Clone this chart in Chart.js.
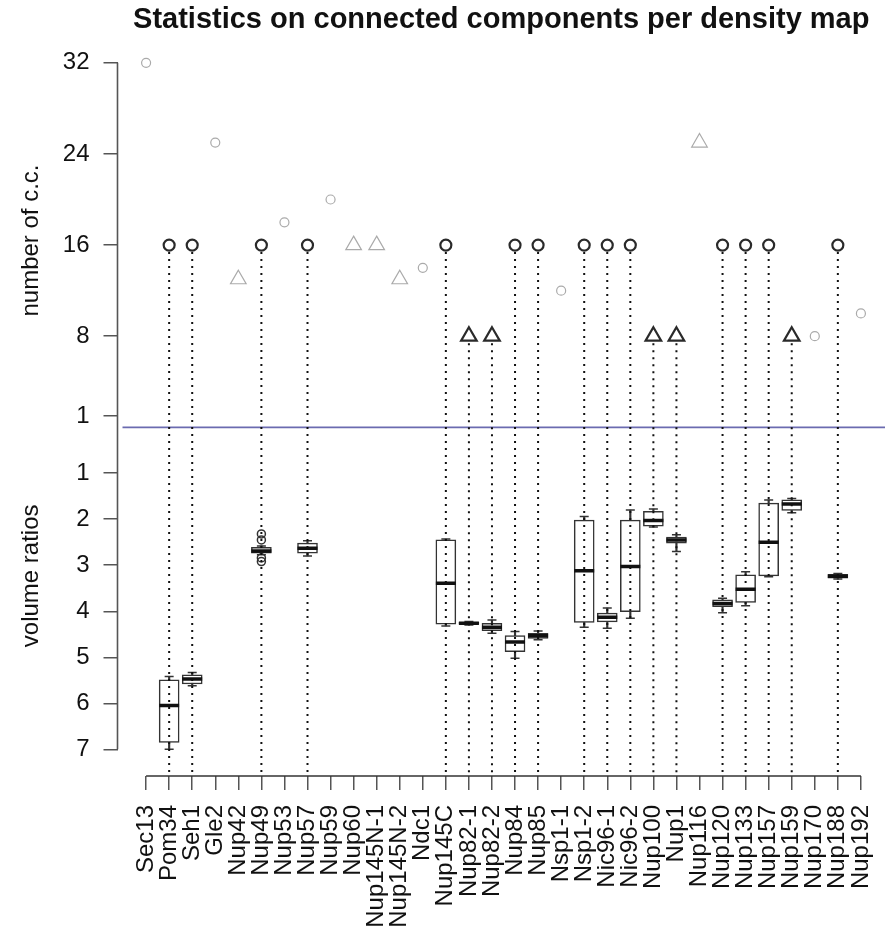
<!DOCTYPE html>
<html>
<head>
<meta charset="utf-8">
<title>Statistics on connected components per density map</title>
<script src="https://cdn.jsdelivr.net/npm/chart.js@4/dist/chart.umd.min.js"></script>
<style>
  html, body { margin: 0; padding: 0; background: #fff; }
  #wrap { width: 885px; height: 931px; }
</style>
</head>
<body>
<div id="wrap"><canvas id="chart"></canvas></div>
<script>
// Density maps along the x axis
const maps = ['Sec13', 'Pom34', 'Seh1', 'Gle2', 'Nup42', 'Nup49', 'Nup53', 'Nup57', 'Nup59', 'Nup60',
  'Nup145N-1', 'Nup145N-2', 'Ndc1', 'Nup145C', 'Nup82-1', 'Nup82-2', 'Nup84', 'Nup85', 'Nsp1-1', 'Nsp1-2',
  'Nic96-1', 'Nic96-2', 'Nup100', 'Nup1', 'Nup116', 'Nup120', 'Nup133', 'Nup157', 'Nup159', 'Nup170',
  'Nup188', 'Nup192'];

// Upper panel: number of connected components and marker shape (o = circle, t = triangle)
const ccCount = [32, 16, 16, 25, 13, 16, 18, 16, 20, 16, 16, 13, 14, 16, 8, 8, 16, 16, 12, 16, 16, 16, 8, 8, 25, 16, 16, 16, 8, 8, 16, 10];
const ccShape = ['o', 'o', 'o', 'o', 't', 'o', 'o', 'o', 'o', 't', 't', 't', 'o', 'o', 't', 't', 'o', 'o', 'o', 'o',
  'o', 'o', 't', 't', 't', 'o', 'o', 'o', 't', 'o', 'o', 'o'];

// Lower panel: volume ratio box plots (null = no box for that map)
const ratioLow  = [null, 5.42, 5.33, null, null, 2.58, null, 2.47, null, null, null, null, null, 2.43, 4.22, 4.19, 4.44, 4.43, null, 1.94, 3.93, 1.80, 1.78, 2.34, null, 3.72, 3.14, 1.58, 1.55, null, 3.18, null];
const ratioQ1   = [null, 5.49, 5.38, null, null, 2.61, null, 2.52, null, null, null, null, null, 2.45, 4.24, 4.26, 4.53, 4.48, null, 2.02, 4.04, 2.02, 1.83, 2.39, null, 3.75, 3.21, 1.65, 1.58, null, 3.20, null];
const ratioMed  = [null, 6.05, 5.47, null, null, 2.69, null, 2.63, null, null, null, null, null, 3.39, 4.26, 4.35, 4.67, 4.53, null, 3.12, 4.13, 3.03, 2.03, 2.45, null, 3.83, 3.52, 2.50, 1.67, null, 3.24, null];
const ratioQ3   = [null, 6.85, 5.58, null, null, 2.74, null, 2.74, null, null, null, null, null, 4.28, 4.28, 4.42, 4.88, 4.59, null, 4.24, 4.23, 4.01, 2.15, 2.52, null, 3.90, 3.81, 3.23, 1.81, null, 3.28, null];
const ratioHigh = [null, 7.00, 5.62, null, null, 2.77, null, 2.80, null, null, null, null, null, 4.32, 4.30, 4.48, 5.02, 4.62, null, 4.35, 4.37, 4.15, 2.17, 2.70, null, 4.03, 3.88, 3.25, 1.86, null, 3.30, null];

// Outliers of the box plots
const outlierMap = ['Nup49', 'Nup49', 'Nup49', 'Nup49'];
const outlierValue = [2.32, 2.45, 2.84, 2.92];

// Tick labels
const ccTicks = [1, 8, 16, 24, 32];
const ratioTicks = [1, 2, 3, 4, 5, 6, 7];

const FONT = "'Liberation Sans', Arial, Helvetica, sans-serif";
Chart.defaults.font.family = FONT;
Chart.defaults.color = '#111';

const hasBox = i => ratioMed[i] !== null;
const boxIdx = maps.map((m, i) => i).filter(hasBox);

// dotted drop lines, the blue zero line, axis lines and axis titles
const extras = {
  id: 'extras',
  afterDatasetsDraw(chart) {
    const { ctx, chartArea, scales } = chart;
    const xs = scales.x, yTop = scales.yTop;
    ctx.save();

    // blue line at zero components
    const y0 = yTop.getPixelForValue(0);
    ctx.strokeStyle = '#6b6bb0';
    ctx.lineWidth = 1.6;
    ctx.beginPath();
    ctx.moveTo(chartArea.left + 5, y0);
    ctx.lineTo(chartArea.right, y0);
    ctx.stroke();

    // dotted lines from each marker down to the axis
    ctx.strokeStyle = '#111';
    ctx.lineWidth = 2;
    ctx.setLineDash([2, 5]);
    boxIdx.forEach(i => {
      const x = xs.getPixelForValue(i + 1);
      const top = yTop.getPixelForValue(ccCount[i]) + 7;
      ctx.beginPath();
      ctx.moveTo(x, top);
      ctx.lineTo(x, chartArea.bottom);
      ctx.stroke();
    });
    ctx.restore();
  },
  afterDraw(chart) {
    const { ctx, chartArea, scales } = chart;
    const xs = scales.x, yTop = scales.yTop, yBot = scales.yBot;
    ctx.save();
    // y axis line from the top tick to the bottom tick
    ctx.strokeStyle = '#555';
    ctx.lineWidth = 1.6;
    ctx.beginPath();
    ctx.moveTo(chartArea.left, yTop.getPixelForValue(ccTicks[ccTicks.length - 1]));
    ctx.lineTo(chartArea.left, yBot.getPixelForValue(ratioTicks[ratioTicks.length - 1]));
    ctx.stroke();
    // x axis line from the first to the last map
    ctx.strokeStyle = '#333';
    ctx.beginPath();
    ctx.moveTo(xs.getPixelForValue(1), chartArea.bottom);
    ctx.lineTo(xs.getPixelForValue(maps.length), chartArea.bottom);
    ctx.stroke();

    // axis titles
    ctx.fillStyle = '#111';
    ctx.font = '24px ' + FONT;
    ctx.textAlign = 'center';
    ctx.textBaseline = 'alphabetic';
    [['number of c.c.', yTop.getPixelForValue(16.4)], ['volume ratios', yBot.getPixelForValue(3.23)]].forEach(([t, y]) => {
      ctx.save();
      ctx.translate(38, y);
      ctx.rotate(-Math.PI / 2);
      ctx.fillText(t, 0, 0);
      ctx.restore();
    });
    ctx.restore();
  }
};

const tickGrid = { drawOnChartArea: false, drawTicks: true, tickLength: 14, color: '#555', lineWidth: 1.5, offset: false };

new Chart(document.getElementById('chart'), {
  type: 'scatter',
  data: {
    datasets: [
      {
        // number of connected components
        yAxisID: 'yTop',
        order: 0,
        clip: false,
        data: maps.map((m, i) => ({ x: i + 1, y: ccCount[i] })),
        pointStyle: ctx => ccShape[ctx.dataIndex] === 't' ? 'triangle' : 'circle',
        radius: ctx => ccShape[ctx.dataIndex] === 't' ? 9 : (hasBox(ctx.dataIndex) ? 5.5 : 4.5),
        borderColor: ctx => hasBox(ctx.dataIndex) ? '#2a2a2a' : '#aaa',
        borderWidth: ctx => hasBox(ctx.dataIndex) ? 2.2 : 1.2,
        backgroundColor: 'rgba(255,255,255,0)'
      },
      {
        // medians
        yAxisID: 'yBot',
        order: 1,
        data: boxIdx.map(i => ({ x: i + 1, y: ratioMed[i] })),
        pointStyle: 'line',
        radius: 10,
        borderWidth: 3.5,
        borderColor: '#111'
      },
      {
        // outliers
        yAxisID: 'yBot',
        order: 1,
        data: outlierMap.map((m, k) => ({ x: maps.indexOf(m) + 1, y: outlierValue[k] })),
        pointStyle: 'circle',
        radius: 4,
        borderWidth: 1.5,
        borderColor: '#333',
        backgroundColor: 'rgba(255,255,255,0)'
      },
      {
        // boxes (first to third quartile)
        type: 'bar',
        yAxisID: 'yBot',
        order: 2,
        grouped: false,
        barThickness: 20,
        data: boxIdx.map(i => ({ x: i + 1, y: [ratioQ1[i], ratioQ3[i]] })),
        backgroundColor: '#fff',
        borderColor: '#333',
        borderWidth: 1.5,
        borderSkipped: false
      },
      {
        // whisker caps
        yAxisID: 'yBot',
        order: 3,
        data: boxIdx.flatMap(i => [{ x: i + 1, y: ratioLow[i] }, { x: i + 1, y: ratioHigh[i] }]),
        pointStyle: 'line',
        radius: 4.5,
        borderWidth: 1.5,
        borderColor: '#333'
      },
      {
        // whiskers
        type: 'bar',
        yAxisID: 'yBot',
        order: 4,
        grouped: false,
        barThickness: 1.5,
        data: boxIdx.map(i => ({ x: i + 1, y: [ratioLow[i], ratioHigh[i]] })),
        backgroundColor: '#333',
        borderWidth: 0
      }
    ]
  },
  options: {
    responsive: true,
    maintainAspectRatio: false,
    animation: false,
    layout: { autoPadding: false, padding: { left: 62.5, right: 0, top: 0, bottom: 3 } },
    plugins: {
      legend: { display: false },
      tooltip: { enabled: false },
      title: {
        display: true,
        fullSize: false,
        text: 'Statistics on connected components per density map',
        font: { size: 29, weight: 'bold' },
        color: '#111',
        padding: { top: 3, bottom: 25 }
      }
    },
    scales: {
      x: {
        type: 'linear',
        offset: false,
        min: -0.24,
        max: 33.045,
        afterBuildTicks: s => { s.ticks = maps.map((m, i) => ({ value: i + 1 })); },
        afterFit: s => { s.height = 152; s.paddingLeft = 0; s.paddingRight = 0; },
        ticks: {
          autoSkip: false,
          minRotation: 90,
          maxRotation: 90,
          padding: 15,
          font: { size: 24 },
          callback: (v, i) => maps[i]
        },
        grid: tickGrid,
        border: { display: false }
      },
      yBot: {
        type: 'linear',
        position: 'left',
        stack: 'panels',
        stackWeight: 331,
        reverse: true,
        min: 0.385,
        max: 7.58,
        afterBuildTicks: s => { s.ticks = ratioTicks.map(v => ({ value: v })); },
        afterFit: s => { s.width = 55; },
        ticks: { padding: 14, font: { size: 24 } },
        grid: tickGrid,
        border: { display: false }
      },
      yTop: {
        type: 'linear',
        position: 'left',
        stack: 'panels',
        stackWeight: 382,
        min: -1.54,
        max: 32,
        afterBuildTicks: s => { s.ticks = ccTicks.map(v => ({ value: v })); },
        afterFit: s => { s.width = 55; },
        ticks: { padding: 14, font: { size: 24 } },
        grid: tickGrid,
        border: { display: false }
      }
    }
  },
  plugins: [extras]
});
</script>
</body>
</html>
